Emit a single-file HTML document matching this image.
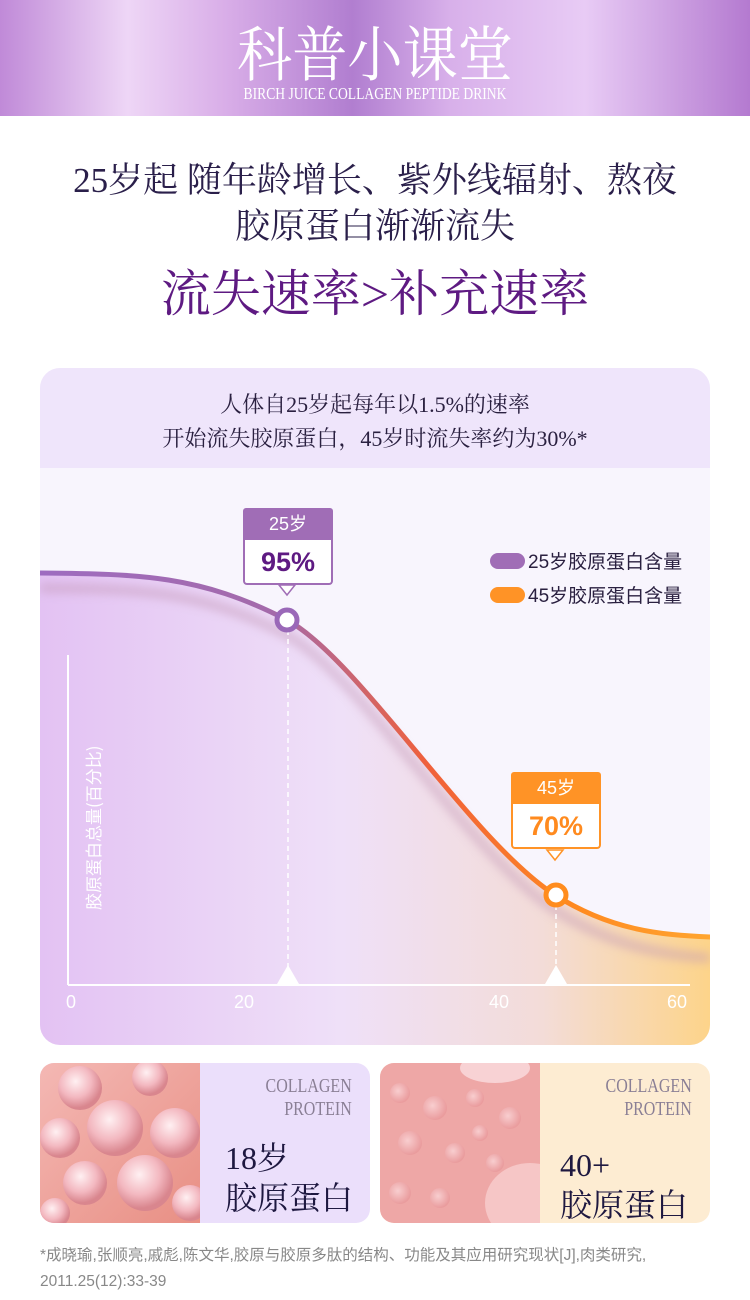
<!DOCTYPE html>
<html><head><meta charset="utf-8"><style>
*{margin:0;padding:0;box-sizing:border-box}
body{width:750px;height:1300px;background:#fff;position:relative;overflow:hidden;font-family:"Liberation Sans","Noto Sans CJK SC",sans-serif}
.hdr{position:absolute;left:0;top:0;width:750px;height:116px;background:linear-gradient(90deg,#c08ad8 0%,#eed6f6 17%,#d9aee8 30%,#b17ed0 47%,#d8b0ea 60%,#e8cbf5 78%,#b47ad0 100%)}
.hdr .t{position:absolute;left:0;width:750px;top:8px;text-align:center;color:#fff;font:400 60px "Noto Serif CJK SC",serif;letter-spacing:0px;transform:scaleX(0.92)}
.hdr .s{position:absolute;left:0;width:750px;top:84px;text-align:center;color:#fff;font:17px "Liberation Serif",serif;transform:scaleX(0.8)}
.c{position:absolute;left:0;width:750px;text-align:center;font-family:"Liberation Serif","Noto Serif CJK SC",serif}
.card{position:absolute;left:40px;top:368px;width:670px;height:677px;border-radius:20px;overflow:hidden;background:#f8f5fd}
.band{position:absolute;left:0;top:0;width:670px;height:100px;background:#efe5fb}
.tip{position:absolute;width:90px;height:77px;border-radius:4px;overflow:visible}
.tip .a{height:32px;color:#fff;font-size:18px;text-align:center;line-height:32px;border-radius:3px 3px 0 0}
.tip .b{height:45px;background:#fff;text-align:center;font-weight:bold;font-size:27px;line-height:45px;border-width:0 2px 2px 2px;border-style:solid;border-radius:0 0 4px 4px}
.small{position:absolute;top:1063px;width:330px;height:160px;border-radius:14px;overflow:hidden}
.cp{position:absolute;right:18px;top:12px;text-align:right;font:20px 'Liberation Serif',serif;color:#8a7f95;line-height:23px;transform:scaleX(0.8);transform-origin:right}
</style></head><body>
<div class="hdr"><div class="t">科普小课堂</div><div class="s">BIRCH JUICE COLLAGEN PEPTIDE DRINK</div></div>
<div class="c" style="top:158px;font-size:35px;color:#2a1f4a;line-height:46px">25岁起 随年龄增长、紫外线辐射、熬夜<br>胶原蛋白渐渐流失</div>
<div class="c" style="top:254px;font-size:50px;color:#5e1a82">流失速率&gt;补充速率</div>
<div class="card">
<div class="band"></div>
<div class="c" style="left:-40px;top:20px;font-size:22px;color:#2a2040;line-height:34px">人体自25岁起每年以1.5%的速率<br>开始流失胶原蛋白，45岁时流失率约为30%*</div>
<svg width="670" height="677" style="position:absolute;left:0;top:0" viewBox="40 368 670 677">
<defs>
<linearGradient id="fill" x1="0" y1="0" x2="1" y2="0"><stop offset="0" stop-color="#e3c2f3"/><stop offset="0.45" stop-color="#efe0f8"/><stop offset="0.75" stop-color="#f3dcd8"/><stop offset="1" stop-color="#fdd48a"/></linearGradient>
<linearGradient id="ln" x1="40" y1="0" x2="710" y2="0" gradientUnits="userSpaceOnUse"><stop offset="0" stop-color="#9e6cc0"/><stop offset="0.35" stop-color="#a46aaa"/><stop offset="0.58" stop-color="#f0603a"/><stop offset="0.8" stop-color="#ff8a20"/><stop offset="1" stop-color="#ffa530"/></linearGradient>
<filter id="bl"><feGaussianBlur stdDeviation="5"/></filter>
</defs>
<path d="M40,573 C140,574 200,575 287,620 C360,660 470,840 555,895 C610,930 660,935 710,937 L710,1045 L40,1045Z" fill="url(#fill)"/>
<path d="M40,588 C140,589 200,590 287,635 C360,675 470,855 555,910 C610,945 660,955 710,958" fill="none" stroke="#c49ab8" stroke-width="8" opacity="0.6" filter="url(#bl)"/>
<path d="M40,573 C140,574 200,575 287,620 C360,660 470,840 555,895 C610,930 660,935 710,937" fill="none" stroke="url(#ln)" stroke-width="5"/>
<line x1="68" y1="655" x2="68" y2="985" stroke="#fff" stroke-width="2"/>
<line x1="68" y1="985" x2="690" y2="985" stroke="#fff" stroke-width="2"/>
<line x1="288" y1="630" x2="288" y2="970" stroke="#fff" stroke-width="1.5" stroke-dasharray="5,4"/>
<line x1="556" y1="905" x2="556" y2="970" stroke="#fff" stroke-width="1.5" stroke-dasharray="5,4"/>
<path d="M277,984 L288,965 L299,984Z" fill="#fff"/>
<path d="M545,984 L556,965 L567,984Z" fill="#fff"/>
<circle cx="287" cy="620" r="10" fill="#fff" stroke="#9a68b8" stroke-width="5"/>
<circle cx="556" cy="895" r="10" fill="#fff" stroke="#ff8c1e" stroke-width="5"/>
<g fill="#fff" font-size="18" font-family="Liberation Sans,sans-serif"><text x="66" y="1008">0</text><text x="234" y="1008">20</text><text x="489" y="1008">40</text><text x="667" y="1008">60</text></g>
<text transform="translate(100,910) rotate(-90)" fill="#fff" font-size="17" font-family="Noto Sans CJK SC,sans-serif">胶原蛋白总量(百分比)</text>
<rect x="490" y="553" width="35" height="16" rx="8" fill="#a06db6"/>
<rect x="490" y="587" width="35" height="16" rx="8" fill="#ff9326"/>
<g fill="#2a2040" font-size="19" font-family="Liberation Sans,Noto Sans CJK SC,sans-serif"><text x="528" y="568">25岁胶原蛋白含量</text><text x="528" y="602">45岁胶原蛋白含量</text></g>
<path d="M279,585 L287,595 L295,585Z" fill="#fff" stroke="#a06db6" stroke-width="1.5"/>
<path d="M547,850 L555,860 L563,850Z" fill="#fff" stroke="#ff9326" stroke-width="1.5"/>
</svg>
<div class="tip" style="left:203px;top:140px"><div class="a" style="background:#a06db6">25岁</div><div class="b" style="border-color:#a06db6;color:#5e1a82">95%</div></div>
<div class="tip" style="left:471px;top:404px"><div class="a" style="background:#ff9326">45岁</div><div class="b" style="border-color:#ff9326;color:#ff8a1e">70%</div></div>
</div>
<div class="small" style="left:40px;background:#ebdffb">
<svg style="position:absolute;left:0;top:0" width="160" height="160"><defs><radialGradient id="bb" cx="0.4" cy="0.35" r="0.6"><stop offset="0" stop-color="#fff0f2"/><stop offset="0.6" stop-color="#f3b8c0"/><stop offset="1" stop-color="#d9868e"/></radialGradient><linearGradient id="bg1" x1="0" y1="0" x2="1" y2="1"><stop offset="0" stop-color="#f4b8b4"/><stop offset="1" stop-color="#e88f84"/></linearGradient></defs>
<rect width="160" height="160" fill="url(#bg1)"/>
<g fill="url(#bb)"><circle cx="40" cy="25" r="22"/><circle cx="110" cy="15" r="18"/><circle cx="20" cy="75" r="20"/><circle cx="75" cy="65" r="28"/><circle cx="135" cy="70" r="25"/><circle cx="45" cy="120" r="22"/><circle cx="105" cy="120" r="28"/><circle cx="150" cy="140" r="18"/><circle cx="15" cy="150" r="15"/></g></svg>
<div class="cp">COLLAGEN<br>PROTEIN</div>
<div style="position:absolute;left:185px;top:75px;font:32px 'Liberation Serif','Noto Serif CJK SC',serif;color:#1e1840;line-height:40px">18岁<br>胶原蛋白</div>
</div>
<div class="small" style="left:380px;background:#fdecd2">
<svg style="position:absolute;left:0;top:0" width="160" height="160"><defs><radialGradient id="bc" cx="0.4" cy="0.4" r="0.6"><stop offset="0" stop-color="#fbd8da"/><stop offset="1" stop-color="#e99a9c"/></radialGradient></defs>
<rect width="160" height="160" fill="#ee a8a8" style="fill:#eea7a6"/>
<g fill="url(#bc)" opacity="0.8"><circle cx="20" cy="30" r="10"/><circle cx="55" cy="45" r="12"/><circle cx="95" cy="35" r="9"/><circle cx="130" cy="55" r="11"/><circle cx="30" cy="80" r="12"/><circle cx="75" cy="90" r="10"/><circle cx="115" cy="100" r="9"/><circle cx="20" cy="130" r="11"/><circle cx="60" cy="135" r="10"/><circle cx="100" cy="70" r="8"/></g>
<ellipse cx="115" cy="5" rx="35" ry="15" fill="#f8d2d4"/><ellipse cx="150" cy="140" rx="45" ry="40" fill="#f6c6c6"/></svg>
<div class="cp">COLLAGEN<br>PROTEIN</div>
<div style="position:absolute;left:180px;top:82px;font:32px 'Liberation Serif','Noto Serif CJK SC',serif;color:#1e1840;line-height:40px">40+<br>胶原蛋白</div>
</div>
<div style="position:absolute;left:40px;top:1243px;font-size:15.5px;color:#888;line-height:26px">*成晓瑜,张顺亮,戚彪,陈文华,胶原与胶原多肽的结构、功能及其应用研究现状[J],肉类研究,<br>2011.25(12):33-39</div>
</body></html>
